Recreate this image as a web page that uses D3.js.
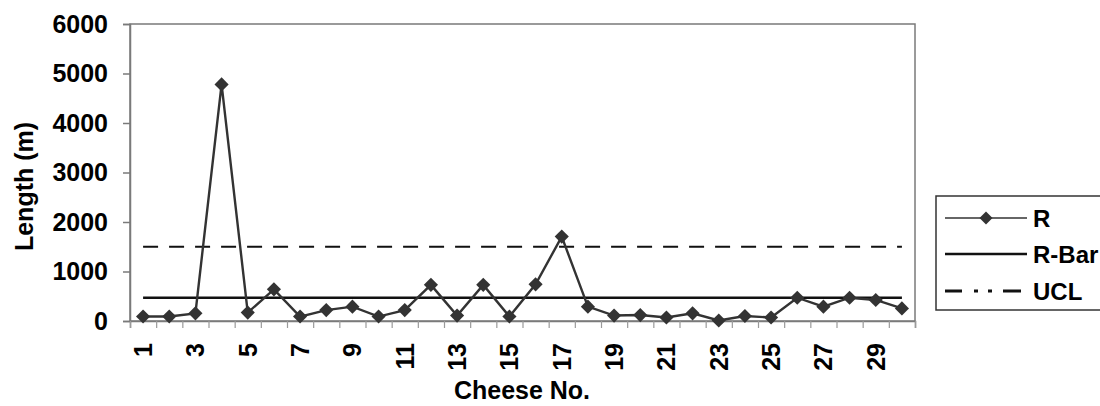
<!DOCTYPE html>
<html>
<head>
<meta charset="utf-8">
<script src="https://cdn.jsdelivr.net/npm/d3@7"></script>
<style>
  html, body { margin: 0; padding: 0; background: #fff; }
  svg { display: block; }
  text { font-family: "Liberation Sans", Arial, sans-serif; font-weight: bold; fill: #000; }
</style>
</head>
<body>
<svg id="chart" width="1100" height="406"></svg>
<script>
// ---- data ----
const categories = d3.range(1, 31);
const rValues = [90, 90, 155, 4780, 170, 640, 90, 220, 290, 90,
                 220, 730, 110, 730, 90, 740, 1705, 290, 110, 120,
                 70, 155, 10, 100, 70, 470, 290, 470, 425, 255];
const rBar = 470;
const ucl = 1500;
const yTicks = [0, 1000, 2000, 3000, 4000, 5000, 6000];
const xTickLabels = categories.filter(d => d % 2 === 1);
const legendLabels = ["R", "R-Bar", "UCL"];

// ---- layout ----
const svg = d3.select("#chart");
const plot = { left: 130, right: 915, top: 24, bottom: 321 };
const x = d3.scaleBand().domain(categories).range([plot.left, plot.right]).padding(0);
const xc = d => x(d) + x.bandwidth() / 2;
const xb = d3.scaleLinear().domain([0.5, 30.5]).range([plot.left, plot.right]);
const y = d3.scaleLinear().domain([0, 6000]).range([plot.bottom, plot.top]);

// plot frame (top / right)
svg.append("rect")
  .attr("x", plot.left).attr("y", plot.top)
  .attr("width", plot.right - plot.left).attr("height", plot.bottom - plot.top)
  .attr("fill", "none").attr("stroke", "#7a7a7a").attr("stroke-width", 1.5);

// y axis
const yAxis = svg.append("g")
  .attr("transform", `translate(${plot.left},0)`)
  .call(d3.axisLeft(y).tickValues(yTicks).tickSize(7).tickPadding(15).tickFormat(d3.format("d")));
yAxis.select(".domain").attr("stroke", "#7a7a7a").attr("stroke-width", 1.5);
yAxis.selectAll(".tick line").attr("stroke", "#7a7a7a").attr("stroke-width", 1.5);
yAxis.selectAll(".tick text").style("font-size", "25px").attr("fill", "#000");

// x axis boundary ticks
const xTickAxis = svg.append("g")
  .attr("transform", `translate(0,${plot.bottom})`)
  .call(d3.axisBottom(xb).tickValues(d3.range(0.5, 31, 1)).tickSize(7).tickFormat(""));
xTickAxis.select(".domain").attr("stroke", "#7a7a7a").attr("stroke-width", 1.5);
xTickAxis.selectAll(".tick line").attr("stroke", "#9a9a9a").attr("stroke-width", 1.2);

// x labels
const xAxis = svg.append("g")
  .attr("transform", `translate(0,${plot.bottom})`)
  .call(d3.axisBottom(x).tickValues(xTickLabels).tickSize(0).tickFormat(d3.format("d")));
xAxis.select(".domain").remove();
xAxis.selectAll(".tick text")
  .style("font-size", "25px")
  .attr("fill", "#000")
  .attr("text-anchor", "end")
  .attr("transform", "rotate(-90)")
  .attr("x", -22).attr("y", 0).attr("dy", "0.36em");

// axis titles
svg.append("text")
  .attr("transform", `translate(33,${(plot.top + plot.bottom) / 2 + 14}) rotate(-90)`)
  .attr("text-anchor", "middle")
  .style("font-size", "25px")
  .text("Length (m)");
svg.append("text")
  .attr("x", 522).attr("y", 399)
  .attr("text-anchor", "middle")
  .style("font-size", "25px")
  .text("Cheese No.");

// UCL dashed line
svg.append("line")
  .attr("x1", xc(categories[0])).attr("x2", xc(categories[categories.length - 1]))
  .attr("y1", y(ucl)).attr("y2", y(ucl))
  .attr("stroke", "#111").attr("stroke-width", 2)
  .attr("stroke-dasharray", "15,11");

// R-bar line
svg.append("line")
  .attr("x1", xc(categories[0])).attr("x2", xc(categories[categories.length - 1]))
  .attr("y1", y(rBar)).attr("y2", y(rBar))
  .attr("stroke", "#111").attr("stroke-width", 2.4);

// R line
const line = d3.line().x((d, i) => xc(categories[i])).y(d => y(d));
svg.append("path")
  .datum(rValues)
  .attr("d", line)
  .attr("fill", "none").attr("stroke", "#333").attr("stroke-width", 2.4);

svg.append("g").selectAll("path")
  .data(rValues)
  .join("path")
  .attr("transform", (d, i) => `translate(${xc(categories[i])},${y(d)}) rotate(45)`)
  .attr("d", d3.symbol().type(d3.symbolSquare).size(100))
  .attr("fill", "#333");

// legend
const lg = svg.append("g");
lg.append("rect")
  .attr("x", 936).attr("y", 196).attr("width", 180).attr("height", 114)
  .attr("fill", "#fff").attr("stroke", "#333").attr("stroke-width", 1.5);
const rowsY = [218, 254, 291];
// R
lg.append("line").attr("x1", 945).attr("x2", 1027).attr("y1", rowsY[0]).attr("y2", rowsY[0])
  .attr("stroke", "#333").attr("stroke-width", 1.3);
lg.append("path").attr("transform", `translate(986,${rowsY[0]}) rotate(45)`)
  .attr("d", d3.symbol().type(d3.symbolSquare).size(85)).attr("fill", "#333");
// R-Bar
lg.append("line").attr("x1", 945).attr("x2", 1027).attr("y1", rowsY[1]).attr("y2", rowsY[1])
  .attr("stroke", "#111").attr("stroke-width", 2.4);
// UCL
lg.append("line").attr("x1", 945).attr("x2", 1021).attr("y1", rowsY[2]).attr("y2", rowsY[2])
  .attr("stroke", "#111").attr("stroke-width", 3.2)
  .attr("stroke-dasharray", "17,12,4,10,4,11,20");
lg.selectAll("text.lab")
  .data(legendLabels)
  .join("text")
  .attr("class", "lab")
  .attr("x", 1033)
  .attr("y", (d, i) => rowsY[i])
  .attr("dy", "0.36em")
  .style("font-size", "24px")
  .text(d => d);
</script>
</body>
</html>
